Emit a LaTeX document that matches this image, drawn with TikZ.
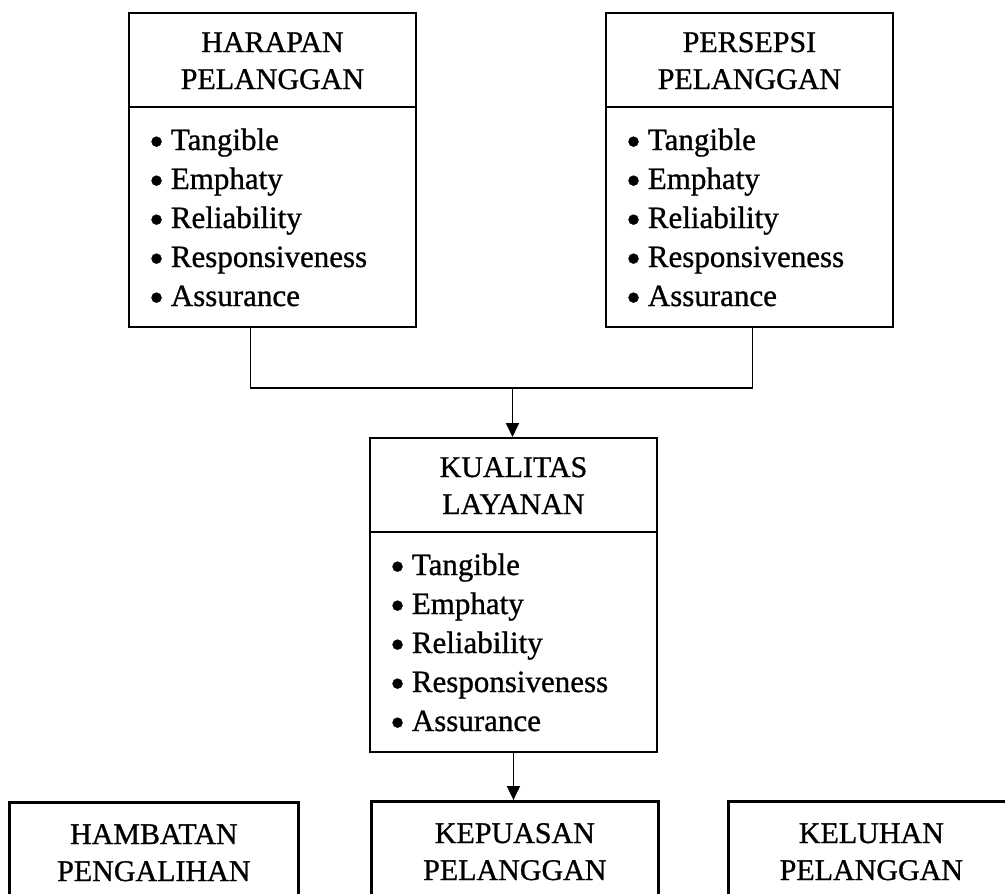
\documentclass[tikz,border=0pt]{standalone}
\usepackage{fontspec}
\setmainfont{Liberation Serif}[FakeBold=0.9]
\usetikzlibrary{arrows.meta}
\newcommand{\bul}{\raisebox{-5.5pt}{\scalebox{1.35}{•}}}
\newcommand{\svbox}[5]{%
  \node[box, minimum width=287pt, minimum height=314pt] (#1) at (#2,#3) {};
  \draw[conn] ([yshift=-95pt]#1.north west) -- ([yshift=-95pt]#1.north east);
  \node[head] (#1-h1) at ([yshift=-40pt]#1.north) {#4};
  \node[head] (#1-h2) at ([yshift=-77pt]#1.north) {#5};
  \foreach \t [count=\i] in {Tangible,Emphaty,Reliability,Responsiveness,Assurance}
    \node[item] (#1-i\i) at ([xshift=21pt, yshift={-138-39*(\i-1)}]#1.north west) {\bul\hspace{7pt}\t};
}
\begin{document}
\begin{tikzpicture}[x=1pt,y=-1pt,
  box/.style={draw, line width=1.9pt, rectangle, inner sep=0pt, anchor=north west},
  bigbox/.style={draw, line width=2.7pt, rectangle, inner sep=0pt, anchor=north west},
  head/.style={anchor=base, inner sep=0pt, font=\fontsize{30}{36}\selectfont},
  item/.style={anchor=base west, inner sep=0pt, font=\fontsize{31}{38}\selectfont},
  conn/.style={line width=1.9pt},
  arr/.style={line width=1.9pt, -{Triangle[width=13pt,length=14pt]}}
]
\useasboundingbox (0,0) rectangle (1005,894);
\clip (0,0) rectangle (1005,894);

\svbox{harapan}{128}{12}{HARAPAN}{PELANGGAN}
\svbox{persepsi}{605}{12}{PERSEPSI}{PELANGGAN}
\svbox{kualitas}{369}{437}{KUALITAS}{LAYANAN}

\node[bigbox, minimum width=289pt, minimum height=150pt] (hambatan) at (8,801) {};
\node[bigbox, minimum width=287pt, minimum height=150pt] (kepuasan) at (370,800) {};
\node[bigbox, minimum width=286pt, minimum height=150pt] (keluhan) at (727,800) {};
\foreach \n/\a/\b in {hambatan/HAMBATAN/PENGALIHAN, kepuasan/KEPUASAN/PELANGGAN, keluhan/KELUHAN/PELANGGAN} {
  \node[head] (\n-h1) at ([yshift=-43pt]\n.north) {\a};
  \node[head] (\n-h2) at ([yshift=-80pt]\n.north) {\b};
}

\coordinate (join) at (512.5,388);
\draw[conn] ([xshift=-22pt]harapan.south) |- (join) -| ([xshift=3pt]persepsi.south);
\draw[arr] (join) -- (join |- kualitas.north);
\draw[arr] (kualitas.south) -- (kualitas.south |- kepuasan.north);
\end{tikzpicture}
\end{document}
